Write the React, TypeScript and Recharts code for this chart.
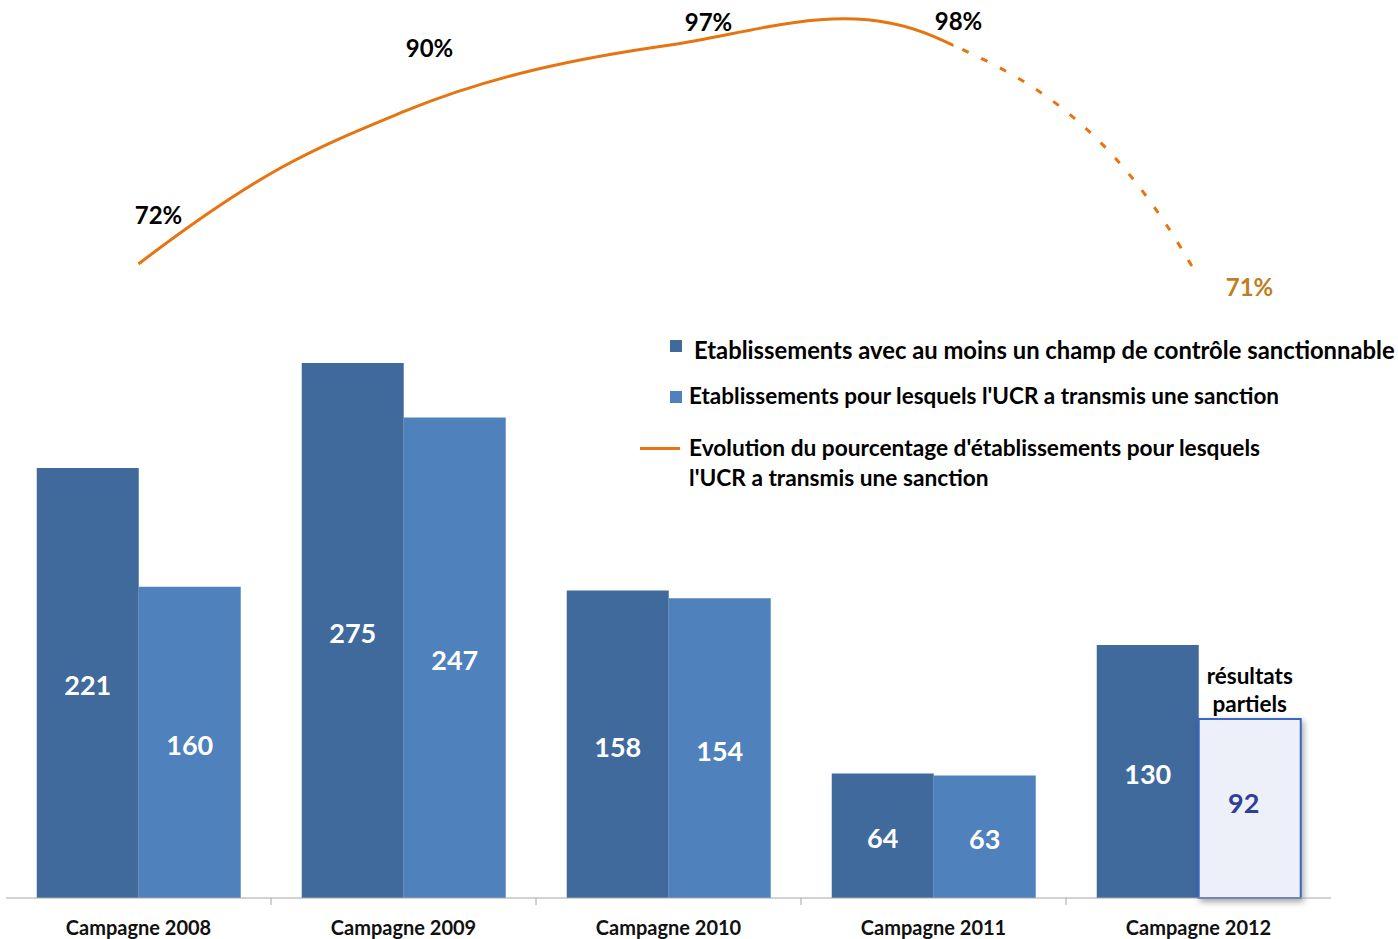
import { ComposedChart, Bar, Line, XAxis, YAxis, Cell, LabelList } from 'recharts';

// values
const categories = ['Campagne 2008', 'Campagne 2009', 'Campagne 2010', 'Campagne 2011', 'Campagne 2012'];
const etabChamp = [221, 275, 158, 64, 130];
const etabSanction = [160, 247, 154, 63, 92];
const pctSanction = [72.4, 89.8, 97.4, 98.4, 70.8]; // shown rounded
const partialIndex = 4; // 2012: résultats partiels

const seriesNames = [
  'Etablissements avec au moins un champ de contrôle sanctionnable',
  "Etablissements pour lesquels l'UCR a transmis une sanction",
  "Evolution du pourcentage d'établissements pour lesquels",
  "l'UCR a transmis une sanction",
];

const data = categories.map((name, i) => ({
  name,
  champ: etabChamp[i],
  sanction: etabSanction[i],
  pct: pctSanction[i],
}));

const W = 1398;
const H = 939;
const margin = { top: 0, right: 67, bottom: 0, left: 6 };
const band = (W - margin.left - margin.right) / categories.length;
const splitX = margin.left + band * 3.5 + 20;

const DARK = '#416A9C';
const LIGHT = '#4F81BD';
const ORANGE = '#E8740F';
const FONT = 'Lato, "Open Sans", sans-serif';

// Excel-like smoothed line: catmull-rom tangents inside,
// end segments mirrored so the curve bends like office charts do
const excelSmooth = (context: any) => {
  let pts: number[][] = [];
  const endArm = 0.52;
  return {
    areaStart() {},
    areaEnd() {},
    lineStart() {
      pts = [];
    },
    point(x: number, y: number) {
      pts.push([+x, +y]);
    },
    lineEnd() {
      const n = pts.length;
      if (!n) return;
      context.moveTo(pts[0][0], pts[0][1]);
      if (n === 2) {
        context.lineTo(pts[1][0], pts[1][1]);
        return;
      }
      const tan = (k: number) => [(pts[k + 1][0] - pts[k - 1][0]) / 6, (pts[k + 1][1] - pts[k - 1][1]) / 6];
      const mirror = (arm: number[], from: number[], to: number[]) => {
        const dx = to[0] - from[0];
        const dy = to[1] - from[1];
        const len = Math.hypot(dx, dy) || 1;
        const ux = dx / len;
        const uy = dy / len;
        const dot = arm[0] * ux + arm[1] * uy;
        const rx = arm[0] - 2 * dot * ux;
        const ry = arm[1] - 2 * dot * uy;
        const rl = Math.hypot(rx, ry) || 1;
        return [(rx / rl) * endArm * len, (ry / rl) * endArm * len];
      };
      for (let i = 0; i < n - 1; i++) {
        const p1 = pts[i];
        const p2 = pts[i + 1];
        let c1: number[];
        let c2: number[];
        if (i > 0) {
          const t = tan(i);
          c1 = [p1[0] + t[0], p1[1] + t[1]];
        } else {
          const t = tan(1);
          const m = mirror([-t[0], -t[1]], p1, p2);
          c1 = [p1[0] + m[0], p1[1] + m[1]];
        }
        if (i + 1 < n - 1) {
          const t = tan(i + 1);
          c2 = [p2[0] - t[0], p2[1] - t[1]];
        } else {
          const t = tan(n - 2);
          const m = mirror(t, p1, p2);
          c2 = [p2[0] + m[0], p2[1] + m[1]];
        }
        context.bezierCurveTo(c1[0], c1[1], c2[0], c2[1], p2[0], p2[1]);
      }
    },
  };
};

// label nudges for the percentage line (dx, dy from the point)
const pctLabelOffset = [
  [20, -49],
  [26, -64],
  [40, -24],
  [25, -16],
  [51, 9],
];

const PctLabel = (props: any) => {
  const { x, y, value, index } = props;
  const [dx, dy] = pctLabelOffset[index] || [0, -20];
  return (
    <text
      x={x + dx}
      y={y + dy}
      textAnchor="middle"
      dominantBaseline="central"
      fontFamily={FONT}
      fontWeight={700}
      fontSize={24}
      fill={index === partialIndex ? '#C07E24' : '#000'}
    >
      {Math.round(value)}%
    </text>
  );
};

const BarValue = (props: any) => {
  const { x, y, width, height, value, index, partial } = props;
  const cx = x + width / 2;
  const cy = y + height / 2;
  if (partial && index === partialIndex) {
    return (
      <g>
        <text x={cx - 6} y={cy - 6} textAnchor="middle" dominantBaseline="central" fontFamily={FONT} fontWeight={700} fontSize={27} fill="#2E3F95">
          {value}
        </text>
        <text x={cx} y={y - 43} textAnchor="middle" dominantBaseline="central" fontFamily={FONT} fontWeight={700} fontSize={22.5} fill="#000">
          résultats
        </text>
        <text x={cx} y={y - 15} textAnchor="middle" dominantBaseline="central" fontFamily={FONT} fontWeight={700} fontSize={22.5} fill="#000">
          partiels
        </text>
      </g>
    );
  }
  return (
    <text x={cx} y={cy + 2} textAnchor="middle" dominantBaseline="central" fontFamily={FONT} fontWeight={700} fontSize={27} fill="#fff">
      {value}
    </text>
  );
};

const CategoryTick = (props: any) => {
  const { x, y, payload, index } = props;
  const axisY = y - 8;
  return (
    <g>
      {index < categories.length - 1 && (
        <line x1={x + band / 2} x2={x + band / 2} y1={axisY} y2={axisY + 7} stroke="#A6A6A6" strokeWidth={1} />
      )}
      <text x={x} y={axisY + 29} textAnchor="middle" dominantBaseline="central" fontFamily={FONT} fontWeight={700} fontSize={20} fill="#111">
        {payload.value}
      </text>
    </g>
  );
};

function ChartLegend() {
  const text = { fontFamily: FONT, fontWeight: 700, color: '#000', whiteSpace: 'nowrap' as const, lineHeight: '30px' };
  return (
    <div style={{ position: 'absolute', left: 0, top: 0, pointerEvents: 'none' }}>
      <div style={{ position: 'absolute', left: 670, top: 340, width: 12, height: 12, background: DARK }} />
      <div style={{ ...text, fontSize: 23.8, position: 'absolute', left: 694, top: 335 }}>{seriesNames[0]}</div>
      <div style={{ position: 'absolute', left: 670, top: 391, width: 12, height: 12, background: LIGHT }} />
      <div style={{ ...text, fontSize: 22.5, position: 'absolute', left: 689, top: 381 }}>{seriesNames[1]}</div>
      <div style={{ position: 'absolute', left: 640, top: 447, width: 40, height: 3, background: ORANGE }} />
      <div style={{ ...text, fontSize: 22.7, position: 'absolute', left: 689, top: 433 }}>{seriesNames[2]}</div>
      <div style={{ ...text, fontSize: 22.7, position: 'absolute', left: 689, top: 463 }}>{seriesNames[3]}</div>
    </div>
  );
}

export default function App() {
  return (
    <div style={{ position: 'relative', width: W, height: H, background: '#fff' }}>
      <style>{`
        body { margin: 0; }
        .pct-solid .recharts-line-curve { clip-path: url(#clip-solid); }
        .pct-dashed .recharts-line-curve { clip-path: url(#clip-dashed); }
      `}</style>
      <svg width={0} height={0} style={{ position: 'absolute' }}>
        <defs>
          <clipPath id="clip-solid" clipPathUnits="userSpaceOnUse">
            <rect x={0} y={0} width={splitX} height={H} />
          </clipPath>
          <clipPath id="clip-dashed" clipPathUnits="userSpaceOnUse">
            <rect x={splitX} y={0} width={W - splitX} height={H} />
          </clipPath>
        </defs>
      </svg>
      <ComposedChart width={W} height={H} data={data} margin={margin} barCategoryGap="11.6%" barGap={0}>
        <XAxis
          dataKey="name"
          height={41}
          axisLine={{ stroke: '#A6A6A6', strokeWidth: 1 }}
          tickLine={false}
          tick={<CategoryTick />}
          interval={0}
        />
        <YAxis yAxisId="bars" hide domain={[0, 461.5]} />
        <YAxis yAxisId="pct" hide orientation="right" domain={[-0.06, 102.57]} />
        <Bar yAxisId="bars" dataKey="champ" fill={DARK} isAnimationActive={false}>
          <LabelList dataKey="champ" content={<BarValue />} />
        </Bar>
        <Bar yAxisId="bars" dataKey="sanction" fill={LIGHT} isAnimationActive={false}>
          {data.map((_, i) =>
            i === partialIndex ? (
              <Cell
                key={`c-${i}`}
                fill="#EEF0F9"
                stroke="#3A66C6"
                strokeWidth={2}
                style={{ filter: 'drop-shadow(2px 3px 3px rgba(0,0,0,0.35))' }}
              />
            ) : (
              <Cell key={`c-${i}`} fill={LIGHT} />
            )
          )}
          <LabelList dataKey="sanction" content={<BarValue partial />} />
        </Bar>
        <Line
          yAxisId="pct"
          className="pct-dashed"
          type={excelSmooth as any}
          dataKey="pct"
          stroke={ORANGE}
          strokeWidth={3}
          strokeDasharray="7 14"
          dot={false}
          isAnimationActive={false}
        />
        <Line
          yAxisId="pct"
          className="pct-solid"
          type={excelSmooth as any}
          dataKey="pct"
          stroke={ORANGE}
          strokeWidth={3}
          dot={false}
          isAnimationActive={false}
        >
          <LabelList dataKey="pct" content={<PctLabel />} />
        </Line>
      </ComposedChart>
      <ChartLegend />
    </div>
  );
}
